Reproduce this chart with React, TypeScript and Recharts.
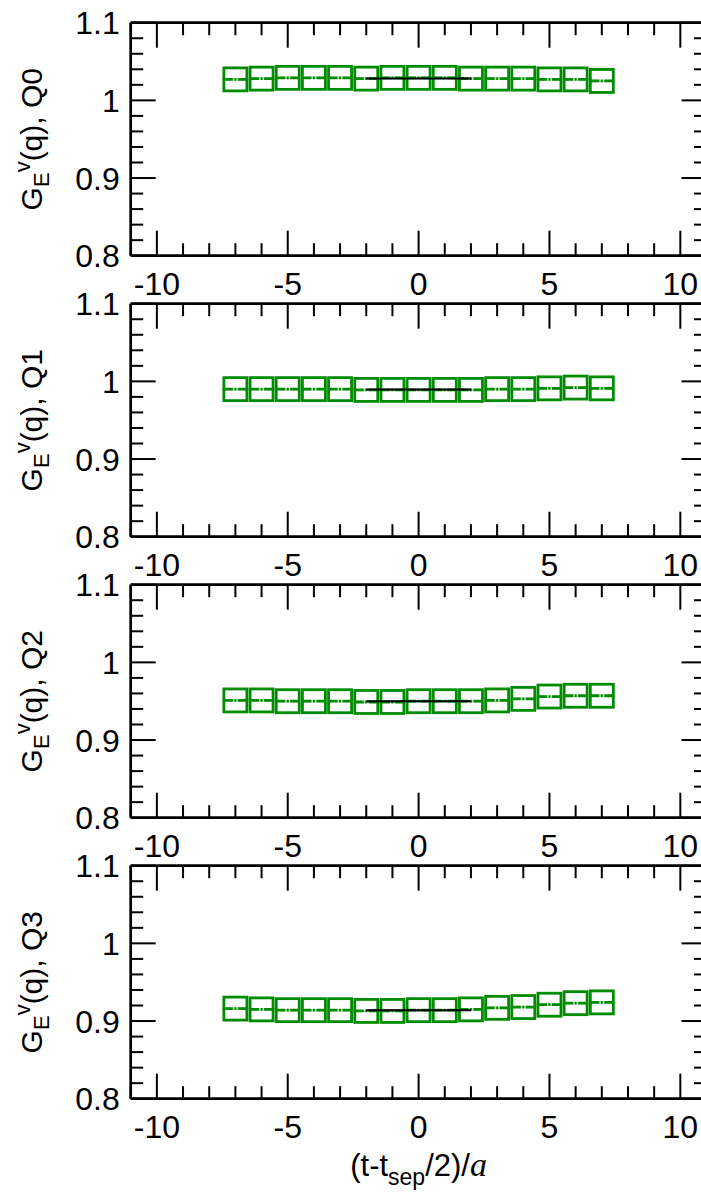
import React from 'react'
import { ScatterChart, Scatter, XAxis, YAxis } from 'recharts'

// source-sink separation axis, centred on t_sep/2
const times = [-7, -6, -5, -4, -3, -2, -1, 0, 1, 2, 3, 4, 5, 6, 7]

const q0Values = [1.027, 1.028, 1.029, 1.029, 1.029, 1.028, 1.029, 1.029, 1.029, 1.028, 1.028, 1.028, 1.027, 1.027, 1.025]
const q1Values = [0.990, 0.990, 0.990, 0.990, 0.990, 0.989, 0.989, 0.989, 0.989, 0.989, 0.990, 0.990, 0.991, 0.992, 0.991]
const q2Values = [0.951, 0.951, 0.950, 0.950, 0.950, 0.949, 0.949, 0.950, 0.950, 0.950, 0.951, 0.953, 0.956, 0.957, 0.957]
const q3Values = [0.916, 0.915, 0.914, 0.914, 0.914, 0.913, 0.913, 0.914, 0.914, 0.915, 0.917, 0.918, 0.921, 0.923, 0.924]

// plateau fits over the central window
const fitRange = [-2, 2]
const fitValues = [1.028, 0.9895, 0.95, 0.914]

const panelNames = ['Q0', 'Q1', 'Q2', 'Q3']
const panelValues = [q0Values, q1Values, q2Values, q3Values]

const xTicks = [-11, -10, -9, -8, -7, -6, -5, -4, -3, -2, -1, 0, 1, 2, 3, 4, 5, 6, 7, 8, 9, 10, 11]
const xLabels = [-10, -5, 0, 5, 10]
const yTicks = [0.8, 0.82, 0.84, 0.86, 0.88, 0.9, 0.92, 0.94, 0.96, 0.98, 1.0, 1.02, 1.04, 1.06, 1.08, 1.1]
const yLabels = [0.8, 0.9, 1.0, 1.1]

const GREEN = '#008c00'
const FONT = '"Liberation Sans", Arial, Helvetica, sans-serif'

const PLOT_LEFT = 130.7
const PLOT_TOP = 22.7
const PLOT_W = 575.8
const PLOT_H = 233
const PITCH = 281
const CHART_W = 730
const CHART_H = 350
const MAJOR = 25
const MINOR = 12.5

const isYMajor = (v: number) => yLabels.some((l) => Math.abs(l - v) < 1e-9)

function BottomTick({ x, y, payload }: any) {
  const v = payload.value
  const major = xLabels.includes(v)
  return (
    <g>
      <line x1={x} x2={x} y1={y} y2={y - (major ? MAJOR : MINOR)} stroke="#000" strokeWidth={2} />
      {major && (
        <text x={x} y={y + 39} textAnchor="middle" fontSize={32} fontFamily={FONT} fill="#000">
          {v}
        </text>
      )}
    </g>
  )
}

function TopTick({ x, y, payload }: any) {
  const major = xLabels.includes(payload.value)
  return <line x1={x} x2={x} y1={y} y2={y + (major ? MAJOR : MINOR)} stroke="#000" strokeWidth={2} />
}

function LeftTick({ x, y, payload }: any) {
  const v = payload.value
  const major = isYMajor(v)
  return (
    <g>
      <line x1={x} x2={x + (major ? MAJOR : MINOR)} y1={y} y2={y} stroke="#000" strokeWidth={2} />
      {major && (
        <text x={x - 11} y={y} dy={11.5} textAnchor="end" fontSize={32} fontFamily={FONT} fill="#000">
          {String(Math.round(v * 10) / 10)}
        </text>
      )}
    </g>
  )
}

function RightTick({ x, y, payload }: any) {
  const major = isYMajor(payload.value)
  return <line x1={x} x2={x - (major ? MAJOR : MINOR)} y1={y} y2={y} stroke="#000" strokeWidth={2} />
}

// open square split by its centre line; the pale stroke joins neighbouring points
function PointBox({ cx, cy }: any) {
  if (cx == null || cy == null) return <g />
  const h = 11.5
  return (
    <g>
      <line x1={cx - 13.5} x2={cx + 13.5} y1={cy} y2={cy} stroke="#8fd08f" strokeWidth={2.5} strokeOpacity={0.7} />
      <rect x={cx - h} y={cy - h} width={2 * h} height={2 * h} fill="none" stroke={GREEN} strokeWidth={2.8} />
      <line
        x1={cx - h}
        x2={cx + h}
        y1={cy}
        y2={cy}
        stroke={GREEN}
        strokeWidth={2.8}
        strokeDasharray="9 1.5 2 1.5 9"
      />
    </g>
  )
}

function YTitle({ viewBox, name }: any) {
  const cy = viewBox.y + viewBox.height / 2
  const bx = 42
  return (
    <text
      x={bx}
      y={cy}
      transform={`rotate(-90 ${bx} ${cy})`}
      textAnchor="middle"
      fontSize={30}
      fontFamily={FONT}
      fill="#000"
    >
      <tspan>G</tspan>
      <tspan dy={7} fontSize={22}>E</tspan>
      <tspan dy={-19} fontSize={22}>v</tspan>
      <tspan dy={12}>(q), {name}</tspan>
    </text>
  )
}

function XTitle({ viewBox }: any) {
  const cx = PLOT_LEFT + PLOT_W / 2
  const y = viewBox.y + 77
  return (
    <text x={cx} y={y} textAnchor="middle" fontSize={31} fontFamily={FONT} fill="#000">
      <tspan>(t-t</tspan>
      <tspan dy={9} fontSize={23}>sep</tspan>
      <tspan dy={-9}>/2)/</tspan>
      <tspan fontFamily='"Liberation Serif", "DejaVu Serif", serif' fontStyle="italic" fontSize={34}>a</tspan>
    </text>
  )
}

function Panel({ index }: { index: number }) {
  const values = panelValues[index]
  const points = times.map((t, i) => ({ t, v: values[i] }))
  const fit = fitRange.map((t) => ({ t, v: fitValues[index] }))
  const last = index === panelValues.length - 1
  const axisLine = { stroke: '#000', strokeWidth: 2.7 }

  return (
    <div style={{ position: 'absolute', left: 0, top: PITCH * index }}>
      <ScatterChart
        width={CHART_W}
        height={CHART_H}
        margin={{
          top: PLOT_TOP - 10,
          left: PLOT_LEFT - 60,
          right: CHART_W - PLOT_LEFT - PLOT_W - 10,
          bottom: CHART_H - PLOT_TOP - PLOT_H - 30,
        }}
      >
        <XAxis
          xAxisId="bottom"
          type="number"
          dataKey="t"
          domain={[-11, 11]}
          ticks={xTicks}
          interval={0}
          tickSize={0}
          tickMargin={0}
          tickLine={false}
          axisLine={axisLine}
          height={30}
          allowDataOverflow
          tick={(p: any) => <BottomTick {...p} />}
          label={last ? { content: (p: any) => <XTitle {...p} /> } : undefined}
        />
        <XAxis
          xAxisId="top"
          orientation="top"
          type="number"
          dataKey="t"
          domain={[-11, 11]}
          ticks={xTicks}
          interval={0}
          tickSize={0}
          tickMargin={0}
          tickLine={false}
          axisLine={axisLine}
          height={10}
          allowDataOverflow
          tick={(p: any) => <TopTick {...p} />}
        />
        <YAxis
          yAxisId="left"
          type="number"
          dataKey="v"
          domain={[0.8, 1.1]}
          ticks={yTicks}
          interval={0}
          tickSize={0}
          tickMargin={0}
          tickLine={false}
          axisLine={axisLine}
          width={60}
          allowDataOverflow
          tick={(p: any) => <LeftTick {...p} />}
          label={{ content: (p: any) => <YTitle {...p} name={panelNames[index]} /> }}
        />
        <YAxis
          yAxisId="right"
          orientation="right"
          type="number"
          dataKey="v"
          domain={[0.8, 1.1]}
          ticks={yTicks}
          interval={0}
          tickSize={0}
          tickMargin={0}
          tickLine={false}
          axisLine={axisLine}
          width={10}
          allowDataOverflow
          tick={(p: any) => <RightTick {...p} />}
        />
        <Scatter
          data={points}
          xAxisId="bottom"
          yAxisId="left"
          isAnimationActive={false}
          shape={(p: any) => <PointBox {...p} />}
        />
        <Scatter
          data={fit}
          xAxisId="top"
          yAxisId="right"
          isAnimationActive={false}
          line={{ stroke: '#000', strokeWidth: 2 }}
          shape={() => <g />}
        />
      </ScatterChart>
    </div>
  )
}

export default function App() {
  return (
    <div
      style={{
        position: 'absolute',
        left: 0,
        top: 0,
        width: 701,
        height: 1193,
        overflow: 'hidden',
        background: '#fff',
      }}
    >
      {panelNames.map((_, i) => (
        <Panel key={i} index={i} />
      ))}
    </div>
  )
}
